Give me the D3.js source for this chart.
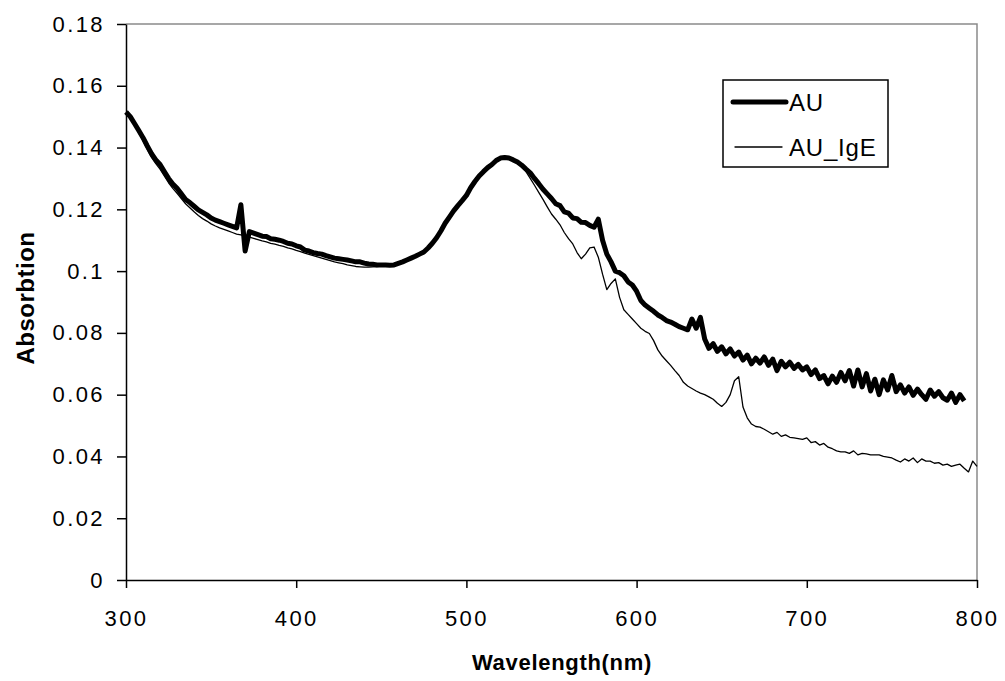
<!DOCTYPE html>
<html>
<head>
<meta charset="utf-8">
<script src="https://cdn.jsdelivr.net/npm/d3@7"></script>
<style>
  body { margin: 0; background: #fff; }
  text { font-family: "Liberation Sans", Arial, sans-serif; fill: #000; }
</style>
</head>
<body>
<svg id="chart" width="1005" height="681"></svg>
<script>
// sampling grid of the spectra (nm), one reading every 2.5 nm
const wavelengths = d3.range(300, 800.01, 2.5);

// AU (300 - 792.5 nm)
const absAU = [
  .1515,.1500,.1478,.1455,.1432,.1405,.1380,.1360,.1345,.1322,.1300,.1282,.1268,.1250,.1232,.1222,.1210,.1198,.1190,.1182, // 300
  .1172,.1165,.1160,.1155,.1150,.1145,.1140,.1215,.1065,.1128,.1123,.1118,.1113,.1112,.1105,.1103,.1100,.1096,.1090,.1088, // 350
  .1082,.1078,.1068,.1065,.1060,.1057,.1055,.1050,.1046,.1042,.1040,.1038,.1036,.1033,.1030,.1030,.1026,.1023,.1022,.1020, // 400
  .1020,.1020,.1019,.1020,.1025,.1030,.1036,.1042,.1048,.1055,.1062,.1075,.1090,.1108,.1130,.1155,.1175,.1195,.1212,.1228, // 450
  .1245,.1270,.1290,.1308,.1322,.1335,.1345,.1358,.1366,.1368,.1366,.1360,.1353,.1343,.1330,.1318,.1300,.1283,.1265,.1250, // 500
  .1235,.1218,.1212,.1192,.1188,.1172,.1170,.1158,.1157,.1148,.1142,.1168,.1100,.1055,.1030,.1000,.0995,.0985,.0965,.0955, // 550
  .0935,.0905,.0890,.0880,.0870,.0858,.0850,.0840,.0835,.0828,.0820,.0815,.0810,.0845,.0815,.0850,.0780,.0750,.0765,.0740, // 600
  .0755,.0732,.0748,.0725,.0738,.0712,.0728,.0700,.0718,.0702,.0722,.0695,.0715,.0678,.0708,.0690,.0705,.0685,.0698,.0680, // 650
  .0690,.0665,.0680,.0652,.0662,.0635,.0660,.0640,.0672,.0645,.0678,.0628,.0680,.0625,.0668,.0612,.0650,.0600,.0648,.0615, // 700
  .0662,.0610,.0632,.0605,.0625,.0598,.0618,.0600,.0585,.0615,.0595,.0610,.0590,.0582,.0605,.0575,.0600,.0580              // 750
];

// AU_IgE (300 - 800 nm)
const absAUIgE = [
  .1512,.1497,.1472,.1448,.1422,.1395,.1368,.1348,.1330,.1308,.1286,.1268,.1252,.1235,.1218,.1205,.1192,.1180,.1170,.1162, // 300
  .1153,.1146,.1140,.1135,.1130,.1125,.1120,.1117,.1114,.1110,.1106,.1102,.1098,.1095,.1090,.1087,.1083,.1080,.1075,.1072, // 350
  .1067,.1063,.1058,.1054,.1050,.1046,.1042,.1038,.1034,.1030,.1027,.1024,.1020,.1018,.1015,.1014,.1013,.1013,.1014,.1015, // 400
  .1016,.1018,.1019,.1020,.1024,.1029,.1035,.1041,.1047,.1054,.1061,.1074,.1089,.1107,.1129,.1154,.1174,.1194,.1211,.1227, // 450
  .1244,.1269,.1289,.1307,.1321,.1334,.1344,.1357,.1365,.1367,.1365,.1359,.1352,.1340,.1322,.1300,.1278,.1255,.1232,.1208, // 500
  .1185,.1168,.1150,.1125,.1105,.1088,.1060,.1040,.1055,.1075,.1078,.1045,.0990,.0940,.0960,.0975,.0915,.0875,.0860,.0845, // 550
  .0830,.0815,.0805,.0798,.0775,.0745,.0725,.0710,.0695,.0678,.0662,.0640,.0628,.0620,.0612,.0605,.0600,.0593,.0585,.0572, // 600
  .0562,.0575,.0600,.0645,.0658,.0560,.0525,.0505,.0497,.0495,.0488,.0480,.0472,.0478,.0465,.0470,.0462,.0460,.0458,.0455, // 650
  .0460,.0445,.0448,.0437,.0442,.0430,.0425,.0418,.0415,.0415,.0410,.0418,.0405,.0410,.0408,.0405,.0405,.0405,.0400,.0398, // 700
  .0395,.0388,.0382,.0392,.0385,.0395,.0380,.0392,.0385,.0385,.0378,.0380,.0372,.0375,.0368,.0372,.0375,.0362,.0350,.0385, // 750
  .0368 // 800
];

const xTicks = [300, 400, 500, 600, 700, 800];
const yTicks = [0, 0.02, 0.04, 0.06, 0.08, 0.1, 0.12, 0.14, 0.16, 0.18];
const yTickLabels = ['0', '0.02', '0.04', '0.06', '0.08', '0.1', '0.12', '0.14', '0.16', '0.18'];

const seriesNames = ['AU', 'AU_IgE'];

const svg = d3.select('#chart');

const x = d3.scaleLinear().domain([300, 800]).range([126, 977]);
const y = d3.scaleLinear().domain([0, 0.18]).range([580, 24]);

// plot area frame (top + right), grey like the original
svg.append('path')
  .attr('d', `M${x(300)},${y(0.18)}H${x(800)}V${y(0)}`)
  .attr('fill', 'none')
  .attr('stroke', '#8a8a8a')
  .attr('stroke-width', 1.5);

// the spectra
const line = d3.line()
  .x(d => x(d[0]))
  .y(d => y(d[1]));

const igeData = absAUIgE.map((v, i) => [wavelengths[i], v]);
const auData = absAU.map((v, i) => [wavelengths[i], v]);

svg.append('path')
  .datum(igeData)
  .attr('d', line)
  .attr('fill', 'none')
  .attr('stroke', '#000')
  .attr('stroke-width', 1.3)
  .attr('stroke-linejoin', 'round');

svg.append('path')
  .datum(auData)
  .attr('d', line)
  .attr('fill', 'none')
  .attr('stroke', '#000')
  .attr('stroke-width', 5)
  .attr('stroke-linejoin', 'round');

// axes
const yAxis = d3.axisLeft(y)
  .tickValues(yTicks)
  .tickFormat((d, i) => yTickLabels[i])
  .tickSize(9)
  .tickSizeOuter(0)
  .tickPadding(12);

const xAxis = d3.axisBottom(x)
  .tickValues(xTicks)
  .tickFormat(d => d)
  .tickSize(8)
  .tickSizeOuter(0)
  .tickPadding(22);

const gy = svg.append('g').attr('transform', `translate(${x(300)},0)`).call(yAxis);
const gx = svg.append('g').attr('transform', `translate(0,${y(0)})`).call(xAxis);

[gx, gy].forEach(g => {
  g.selectAll('path, line').attr('stroke', '#000').attr('stroke-width', 1.5);
  g.selectAll('text')
    .attr('fill', '#000')
    .style('font-family', '"Liberation Sans", Arial, sans-serif')
    .style('font-size', '22px')
    .style('letter-spacing', '2.4px');
});

// axis titles
svg.append('text')
  .attr('x', 562)
  .attr('y', 670)
  .attr('text-anchor', 'middle')
  .style('font-size', '22px')
  .style('font-weight', 'bold')
  .style('letter-spacing', '0.7px')
  .text('Wavelength(nm)');

svg.append('text')
  .attr('transform', 'translate(34,298) rotate(-90)')
  .attr('text-anchor', 'middle')
  .style('font-size', '24px')
  .style('font-weight', 'bold')
  .style('letter-spacing', '0.5px')
  .text('Absorbtion');

// legend
const legend = svg.append('g');
legend.append('rect')
  .attr('x', 723).attr('y', 80)
  .attr('width', 165).attr('height', 87)
  .attr('fill', '#fff')
  .attr('stroke', '#000')
  .attr('stroke-width', 1.5);

const legendRows = [
  { name: seriesNames[0], ly: 102, x1: 733, x2: 786, w: 5 },
  { name: seriesNames[1], ly: 147, x1: 735, x2: 782, w: 1.3 }
];

legendRows.forEach(r => {
  legend.append('line')
    .attr('x1', r.x1).attr('x2', r.x2)
    .attr('y1', r.ly).attr('y2', r.ly)
    .attr('stroke', '#000')
    .attr('stroke-width', r.w)
    .attr('stroke-linecap', 'round');
  legend.append('text')
    .attr('x', 789)
    .attr('y', r.ly + 8.5)
    .style('font-size', '24px')
    .style('letter-spacing', '0.8px')
    .text(r.name);
});
</script>
</body>
</html>
